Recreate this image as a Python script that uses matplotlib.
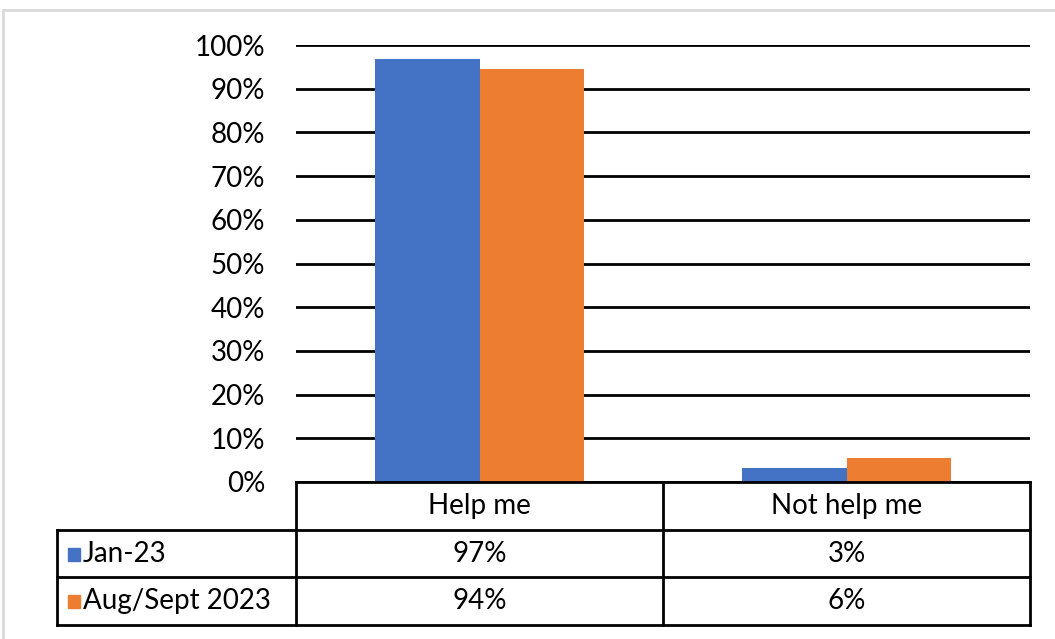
import matplotlib.pyplot as plt
from matplotlib.lines import Line2D
from matplotlib.patches import Rectangle
import numpy as np

plt.rcParams['font.family'] = ['Lato', 'DejaVu Sans']

categories = ['Help me', 'Not help me']
series = ['Jan-23', 'Aug/Sept 2023']
jan23 = [0.967, 0.033]
augsept = [0.944, 0.054]
table_labels = [['97%', '3%'], ['94%', '6%']]
colors = ['#4472C4', '#ED7D31']

W, H = 1055, 639
fig = plt.figure(figsize=(W / 100, H / 100), dpi=100)

def fx(px):
    return px / W

def fy(py):
    return 1 - py / H

# plot area in pixels
left, right, top, bottom = 296, 1030, 45, 482
ax = fig.add_axes([fx(left), fy(bottom), fx(right) - fx(left), fy(top) - fy(bottom)])

x = np.arange(len(categories))
w = 0.286
ax.bar(x - w / 2, jan23, w, color=colors[0], zorder=3)
ax.bar(x + w / 2, augsept, w, color=colors[1], zorder=3)
ax.set_xlim(-0.5, 1.5)
ax.set_ylim(0, 1)
ax.set_yticks(np.arange(0, 1.01, 0.1))
ax.set_yticklabels([f'{int(round(v * 100))}%' for v in np.arange(0, 1.01, 0.1)])
ax.tick_params(axis='y', length=0, labelsize=20, pad=22)
ax.set_xticks([])
ax.yaxis.grid(True, color='black', linewidth=2, zorder=1)
for s in ax.spines.values():
    s.set_visible(False)

# data table drawn below the plot area
row_y = [482, 530, 577, 625]
col_x = [57, 296, 663, 1030]
lw = 2
def hline(y, x0, x1):
    fig.add_artist(Line2D([fx(x0), fx(x1)], [fy(y), fy(y)], color='black', linewidth=lw))
def vline(x0, y0, y1):
    fig.add_artist(Line2D([fx(x0), fx(x0)], [fy(y0), fy(y1)], color='black', linewidth=lw))

hline(row_y[0], col_x[1], col_x[3])
for y in row_y[1:]:
    hline(y, col_x[0], col_x[3])
vline(col_x[0], row_y[1], row_y[3])
for xx in col_x[1:]:
    vline(xx, row_y[0], row_y[3])

for i, c in enumerate(categories):
    fig.text(fx((col_x[i + 1] + col_x[i + 2]) / 2), fy((row_y[0] + row_y[1]) / 2), c,
             ha='center', va='center', fontsize=20)
for r, name in enumerate(series):
    yc = (row_y[r + 1] + row_y[r + 2]) / 2
    fig.add_artist(Rectangle((fx(68), fy(yc + 7)), fx(12), 13 / H, color=colors[r]))
    fig.text(fx(83), fy(yc), name, ha='left', va='center', fontsize=20)
    for i in range(len(categories)):
        fig.text(fx((col_x[i + 1] + col_x[i + 2]) / 2), fy(yc), table_labels[r][i],
                 ha='center', va='center', fontsize=20)

# light outer frame
fig.add_artist(Rectangle((fx(3), fy(650)), fx(1100), (650 - 10) / H, fill=False,
                         edgecolor='#d9d9d9', linewidth=2))

fig.savefig('out.png', dpi=100)
